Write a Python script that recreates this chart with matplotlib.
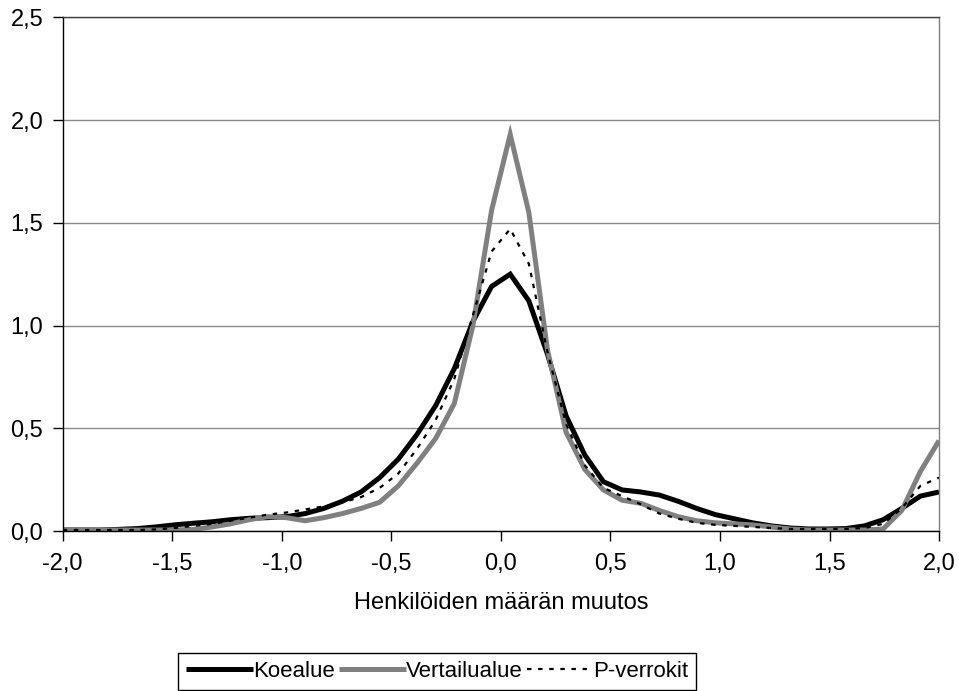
import matplotlib
matplotlib.use("Agg")
import matplotlib.pyplot as plt
from matplotlib.ticker import FuncFormatter, MultipleLocator
import numpy as np

plt.rcParams['font.family'] = ['Liberation Sans', 'DejaVu Sans']

# x positions: 48 evenly spaced classes between -2 and 2
x = np.linspace(-2.0, 2.0, 48)

koealue = [0.005, 0.005, 0.005, 0.008, 0.012, 0.02, 0.03, 0.038, 0.045, 0.055,
           0.062, 0.065, 0.07, 0.085, 0.11, 0.145, 0.19, 0.26, 0.35, 0.47,
           0.61, 0.79, 1.02, 1.19, 1.25, 1.12, 0.86, 0.56, 0.37, 0.24,
           0.20, 0.19, 0.175, 0.145, 0.11, 0.08, 0.06, 0.04, 0.025, 0.015,
           0.01, 0.01, 0.012, 0.025, 0.055, 0.11, 0.17, 0.19]

vertailualue = [0.005, 0.005, 0.005, 0.005, 0.005, 0.005, 0.005, 0.008, 0.02, 0.035,
                0.055, 0.07, 0.065, 0.05, 0.065, 0.085, 0.11, 0.14, 0.22, 0.33,
                0.45, 0.62, 1.0, 1.56, 1.93, 1.55, 0.88, 0.48, 0.30, 0.20,
                0.15, 0.135, 0.10, 0.07, 0.05, 0.04, 0.035, 0.03, 0.02, 0.01,
                0.005, 0.005, 0.005, 0.005, 0.01, 0.10, 0.29, 0.44]

p_verrokit = [0.005, 0.005, 0.005, 0.005, 0.005, 0.008, 0.015, 0.025, 0.035, 0.05,
              0.065, 0.08, 0.09, 0.105, 0.12, 0.14, 0.165, 0.21, 0.28, 0.40,
              0.54, 0.74, 1.05, 1.36, 1.47, 1.30, 0.87, 0.52, 0.32, 0.21,
              0.17, 0.13, 0.085, 0.06, 0.04, 0.03, 0.025, 0.02, 0.015, 0.01,
              0.01, 0.01, 0.01, 0.015, 0.035, 0.11, 0.22, 0.26]

fs = 17

fig = plt.figure(figsize=(9.59, 6.91), dpi=100)
ax = fig.add_axes([0.0654, 0.2315, 0.9138, 0.7435])

ax.plot(x, koealue, color='black', lw=3.6, solid_joinstyle='miter',
        solid_capstyle='butt', label='Koealue')
ax.plot(x, vertailualue, color='#808080', lw=3.6, solid_joinstyle='miter',
        solid_capstyle='butt', label='Vertailualue')
ax.plot(x, p_verrokit, color='black', lw=1.6, linestyle=(0, (2, 3)),
        label='P-verrokit')

ax.set_xlim(-2.0, 2.0)
ax.set_ylim(0, 2.5)
ax.xaxis.set_major_locator(MultipleLocator(0.5))
ax.yaxis.set_major_locator(MultipleLocator(0.5))
fmt = FuncFormatter(lambda v, p: f"{v:.1f}".replace('.', ','))
ax.xaxis.set_major_formatter(fmt)
ax.yaxis.set_major_formatter(fmt)

# horizontal grid only
ax.yaxis.grid(True, color='#8c8c8c', lw=1)
ax.set_axisbelow(True)

ax.spines['left'].set_color('black')
ax.spines['bottom'].set_color('black')
ax.spines['top'].set_color('#404040')
ax.spines['right'].set_color('#808080')
for s in ax.spines.values():
    s.set_linewidth(1)

ax.tick_params(axis='both', direction='out', length=7, width=1,
               labelsize=fs, color='black')
ax.tick_params(axis='x', pad=9)
ax.tick_params(axis='y', pad=7)
ax.set_xlabel('Henkilöiden määrän muutos', fontsize=fs, labelpad=12)

leg = fig.legend(loc='center', bbox_to_anchor=(0.456, 0.0285), ncol=3,
                 fontsize=16, frameon=True, fancybox=False, edgecolor='black',
                 framealpha=1, handlelength=3.0, handletextpad=0.0,
                 columnspacing=0.2, borderpad=0.35, borderaxespad=0)
leg.get_frame().set_linewidth(1)

fig.savefig('out.png', dpi=100)
